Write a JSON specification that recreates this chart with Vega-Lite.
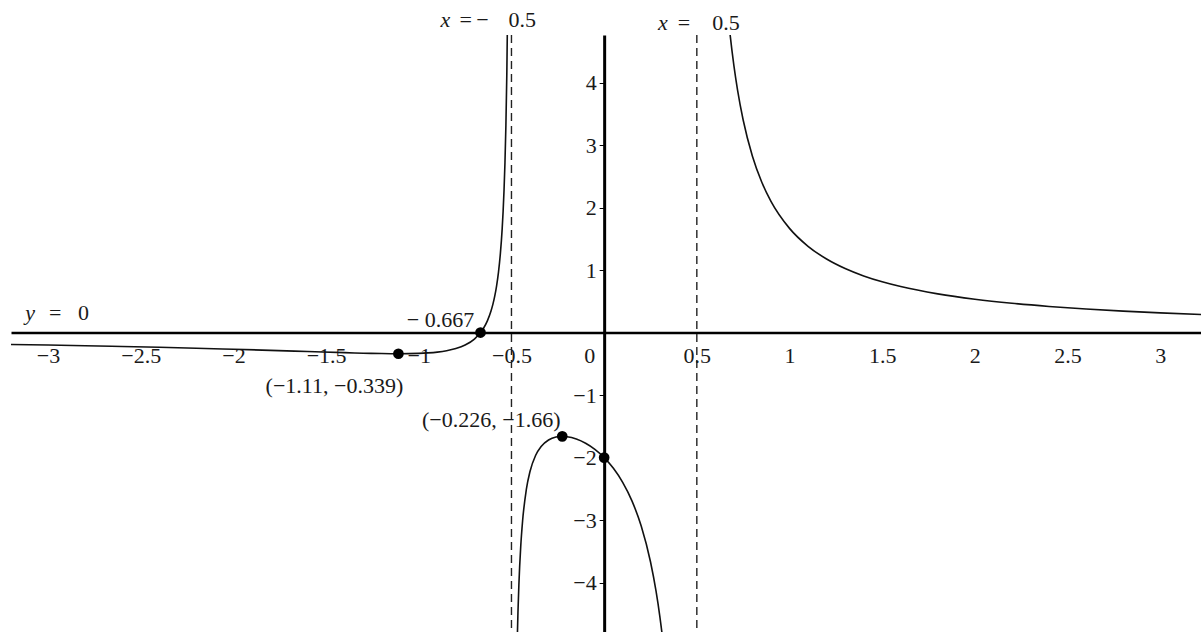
{
  "$schema": "https://vega.github.io/schema/vega-lite/v6.json",
  "width": 1190,
  "height": 597,
  "autosize": {"type": "none"},
  "padding": {"left": 11, "top": 35, "right": 0, "bottom": 0},
  "background": "white",
  "title": {
    "text": "(c)",
    "anchor": "start",
    "frame": "group",
    "orient": "top",
    "offset": 34,
    "dx": 47,
    "baseline": "alphabetic",
    "font": "Liberation Serif, Times New Roman, DejaVu Serif, serif",
    "fontSize": 22,
    "fontWeight": "normal",
    "color": "#1a1a1a"
  },
  "config": {
    "view": {"stroke": null},
    "font": "Liberation Serif, Times New Roman, DejaVu Serif, serif",
    "text": {"font": "Liberation Serif, Times New Roman, DejaVu Serif, serif", "fontSize": 22, "color": "#1a1a1a"}
  },
  "datasets": {
    "curve": [
      {"branch": "left", "x": -3.2, "y": -0.1902},
      {"branch": "left", "x": -3.0, "y": -0.2},
      {"branch": "left", "x": -2.8, "y": -0.2108},
      {"branch": "left", "x": -2.6, "y": -0.2227},
      {"branch": "left", "x": -2.4, "y": -0.2359},
      {"branch": "left", "x": -2.2, "y": -0.2505},
      {"branch": "left", "x": -2.0, "y": -0.2667},
      {"branch": "left", "x": -1.8, "y": -0.2843},
      {"branch": "left", "x": -1.6, "y": -0.303},
      {"branch": "left", "x": -1.4, "y": -0.3216},
      {"branch": "left", "x": -1.3, "y": -0.3299},
      {"branch": "left", "x": -1.2, "y": -0.3361},
      {"branch": "left", "x": -1.11, "y": -0.3386},
      {"branch": "left", "x": -1.0, "y": -0.3333},
      {"branch": "left", "x": -0.95, "y": -0.3257},
      {"branch": "left", "x": -0.9, "y": -0.3125},
      {"branch": "left", "x": -0.85, "y": -0.291},
      {"branch": "left", "x": -0.8, "y": -0.2564},
      {"branch": "left", "x": -0.75, "y": -0.2},
      {"branch": "left", "x": -0.7, "y": -0.1042},
      {"branch": "left", "x": -0.667, "y": 0},
      {"branch": "left", "x": -0.65, "y": 0.0725},
      {"branch": "left", "x": -0.63, "y": 0.1872},
      {"branch": "left", "x": -0.61, "y": 0.3481},
      {"branch": "left", "x": -0.6, "y": 0.4545},
      {"branch": "left", "x": -0.59, "y": 0.5861},
      {"branch": "left", "x": -0.58, "y": 0.7523},
      {"branch": "left", "x": -0.57, "y": 0.968},
      {"branch": "left", "x": -0.56, "y": 1.2579},
      {"branch": "left", "x": -0.55, "y": 1.6667},
      {"branch": "left", "x": -0.545, "y": 1.9405},
      {"branch": "left", "x": -0.54, "y": 2.2837},
      {"branch": "left", "x": -0.535, "y": 2.726},
      {"branch": "left", "x": -0.53, "y": 3.3172},
      {"branch": "left", "x": -0.525, "y": 4.1463},
      {"branch": "left", "x": -0.52, "y": 5.3922},
      {"branch": "left", "x": -0.515, "y": 7.47},
      {"branch": "middle", "x": -0.48, "y": -7.143},
      {"branch": "middle", "x": -0.475, "y": -5.897},
      {"branch": "middle", "x": -0.47, "y": -5.069},
      {"branch": "middle", "x": -0.465, "y": -4.478},
      {"branch": "middle", "x": -0.46, "y": -4.036},
      {"branch": "middle", "x": -0.45, "y": -3.421},
      {"branch": "middle", "x": -0.44, "y": -3.014},
      {"branch": "middle", "x": -0.42, "y": -2.514},
      {"branch": "middle", "x": -0.4, "y": -2.222},
      {"branch": "middle", "x": -0.37, "y": -1.967},
      {"branch": "middle", "x": -0.34, "y": -1.823},
      {"branch": "middle", "x": -0.3, "y": -1.719},
      {"branch": "middle", "x": -0.26, "y": -1.672},
      {"branch": "middle", "x": -0.226, "y": -1.6614},
      {"branch": "middle", "x": -0.2, "y": -1.6667},
      {"branch": "middle", "x": -0.15, "y": -1.7033},
      {"branch": "middle", "x": -0.1, "y": -1.7708},
      {"branch": "middle", "x": -0.05, "y": -1.8687},
      {"branch": "middle", "x": 0.0, "y": -2.0},
      {"branch": "middle", "x": 0.05, "y": -2.1717},
      {"branch": "middle", "x": 0.1, "y": -2.3958},
      {"branch": "middle", "x": 0.15, "y": -2.6923},
      {"branch": "middle", "x": 0.2, "y": -3.0952},
      {"branch": "middle", "x": 0.25, "y": -3.6667},
      {"branch": "middle", "x": 0.28, "y": -4.1375},
      {"branch": "middle", "x": 0.3, "y": -4.5313},
      {"branch": "middle", "x": 0.32, "y": -5.0136},
      {"branch": "middle", "x": 0.34, "y": -5.6176},
      {"branch": "right", "x": 0.66, "y": 5.361},
      {"branch": "right", "x": 0.67, "y": 5.0402},
      {"branch": "right", "x": 0.68, "y": 4.7552},
      {"branch": "right", "x": 0.7, "y": 4.2708},
      {"branch": "right", "x": 0.72, "y": 3.8748},
      {"branch": "right", "x": 0.75, "y": 3.4},
      {"branch": "right", "x": 0.8, "y": 2.8205},
      {"branch": "right", "x": 0.85, "y": 2.4074},
      {"branch": "right", "x": 0.9, "y": 2.0982},
      {"branch": "right", "x": 1.0, "y": 1.6667},
      {"branch": "right", "x": 1.1, "y": 1.3802},
      {"branch": "right", "x": 1.2, "y": 1.1765},
      {"branch": "right", "x": 1.3, "y": 1.0243},
      {"branch": "right", "x": 1.4, "y": 0.9064},
      {"branch": "right", "x": 1.5, "y": 0.8125},
      {"branch": "right", "x": 1.6, "y": 0.7359},
      {"branch": "right", "x": 1.8, "y": 0.6187},
      {"branch": "right", "x": 2.0, "y": 0.5333},
      {"branch": "right", "x": 2.2, "y": 0.4684},
      {"branch": "right", "x": 2.4, "y": 0.4174},
      {"branch": "right", "x": 2.6, "y": 0.3763},
      {"branch": "right", "x": 2.8, "y": 0.3426},
      {"branch": "right", "x": 3.0, "y": 0.3143},
      {"branch": "right", "x": 3.22, "y": 0.2881}
    ],
    "asymptotes": [
      {"var": "x", "at": -0.5, "eq": "=\u2009\u2212\u2002\u2009\u20090.5"},
      {"var": "x", "at": 0.5, "eq": "=\u20030.5"},
      {"var": "y", "at": 0, "eq": "=\u2002 0"}
    ],
    "points": [
      {"x": -1.11, "y": -0.339, "label": "(\u22121.11, \u22120.339)"},
      {"x": -0.667, "y": 0, "label": "\u2212 0.667"},
      {"x": -0.226, "y": -1.66, "label": "(\u22120.226, \u22121.66)"},
      {"x": 0, "y": -2}
    ]
  },
  "layer": [
    {
      "data": {"name": "curve"},
      "mark": {"type": "line", "clip": true, "color": "#111111", "strokeWidth": 1.6, "interpolate": "monotone"},
      "encoding": {
        "x": {
          "field": "x",
          "type": "quantitative",
          "scale": {"domain": [-3.2, 3.22], "nice": false, "zero": false},
          "axis": {
            "orient": "bottom",
            "offset": -299.45,
            "values": [-3, -2.5, -2, -1.5, -1, -0.5, 0, 0.5, 1, 1.5, 2, 2.5, 3],
            "format": "~g",
            "title": null,
            "grid": false,
            "ticks": false,
            "domainColor": "#000000",
            "domainWidth": 2.6,
            "labelFont": "Liberation Serif, Times New Roman, DejaVu Serif, serif",
            "labelFontSize": 22,
            "labelColor": "#1a1a1a",
            "labelPadding": 13,
            "labelOverlap": false,
            "labelFlush": false,
            "labelOffset": {"condition": {"test": "datum.value === 0", "value": -15}, "value": 0}
          }
        },
        "y": {
          "field": "y",
          "type": "quantitative",
          "scale": {"domain": [-4.79, 4.76], "nice": false, "zero": false},
          "axis": {
            "orient": "left",
            "offset": -593.15,
            "values": [-4, -3, -2, -1, 1, 2, 3, 4],
            "format": "~g",
            "title": null,
            "grid": false,
            "ticks": true,
            "tickSize": 5,
            "tickWidth": 1,
            "tickColor": "#000000",
            "domainColor": "#000000",
            "domainWidth": 3,
            "labelFont": "Liberation Serif, Times New Roman, DejaVu Serif, serif",
            "labelFontSize": 22,
            "labelColor": "#1a1a1a",
            "labelPadding": 3,
            "labelOverlap": false,
            "labelFlush": false
          }
        },
        "detail": {"field": "branch"}
      }
    },
    {
      "data": {"name": "asymptotes"},
      "transform": [{"filter": "datum.var === 'x'"}],
      "mark": {"type": "rule", "strokeDash": [8, 5], "strokeWidth": 1.4, "color": "#222222"},
      "encoding": {"x": {"field": "at", "type": "quantitative"}}
    },
    {
      "data": {"name": "points"},
      "mark": {"type": "circle", "size": 115, "color": "#000000", "opacity": 1},
      "encoding": {
        "x": {"field": "x", "type": "quantitative"},
        "y": {"field": "y", "type": "quantitative"}
      }
    },
    {
      "data": {"name": "points"},
      "transform": [{"filter": "datum.x === -0.667"}],
      "mark": {"type": "text", "align": "center", "baseline": "middle", "dx": -40, "dy": -13},
      "encoding": {
        "x": {"field": "x", "type": "quantitative"},
        "y": {"field": "y", "type": "quantitative"},
        "text": {"field": "label"}
      }
    },
    {
      "data": {"name": "points"},
      "transform": [{"filter": "datum.x === -1.11"}],
      "mark": {"type": "text", "align": "center", "baseline": "middle", "dx": -64, "dy": 32},
      "encoding": {
        "x": {"field": "x", "type": "quantitative"},
        "y": {"field": "y", "type": "quantitative"},
        "text": {"field": "label"}
      }
    },
    {
      "data": {"name": "points"},
      "transform": [{"filter": "datum.x === -0.226"}],
      "mark": {"type": "text", "align": "center", "baseline": "middle", "dx": -71, "dy": -16},
      "encoding": {
        "x": {"field": "x", "type": "quantitative"},
        "y": {"field": "y", "type": "quantitative"},
        "text": {"field": "label"}
      }
    },
    {
      "data": {"name": "asymptotes"},
      "transform": [{"filter": "datum.at === -0.5"}],
      "mark": {"type": "text", "fontStyle": "italic", "align": "center", "baseline": "alphabetic", "dx": -66, "dy": -8},
      "encoding": {
        "x": {"field": "at", "type": "quantitative"},
        "y": {"datum": 4.76},
        "text": {"field": "var"}
      }
    },
    {
      "data": {"name": "asymptotes"},
      "transform": [{"filter": "datum.at === -0.5"}],
      "mark": {"type": "text", "align": "left", "baseline": "alphabetic", "dx": -52, "dy": -8},
      "encoding": {
        "x": {"field": "at", "type": "quantitative"},
        "y": {"datum": 4.76},
        "text": {"field": "eq"}
      }
    },
    {
      "data": {"name": "asymptotes"},
      "transform": [{"filter": "datum.at === 0.5"}],
      "mark": {"type": "text", "fontStyle": "italic", "align": "center", "baseline": "alphabetic", "dx": -34, "dy": -5},
      "encoding": {
        "x": {"field": "at", "type": "quantitative"},
        "y": {"datum": 4.76},
        "text": {"field": "var"}
      }
    },
    {
      "data": {"name": "asymptotes"},
      "transform": [{"filter": "datum.at === 0.5"}],
      "mark": {"type": "text", "align": "left", "baseline": "alphabetic", "dx": -19, "dy": -5},
      "encoding": {
        "x": {"field": "at", "type": "quantitative"},
        "y": {"datum": 4.76},
        "text": {"field": "eq"}
      }
    },
    {
      "data": {"name": "asymptotes"},
      "transform": [{"filter": "datum.var === 'y'"}],
      "mark": {"type": "text", "fontStyle": "italic", "align": "center", "baseline": "alphabetic", "dx": 19, "dy": -12.5},
      "encoding": {
        "x": {"datum": -3.2},
        "y": {"field": "at", "type": "quantitative"},
        "text": {"field": "var"}
      }
    },
    {
      "data": {"name": "asymptotes"},
      "transform": [{"filter": "datum.var === 'y'"}],
      "mark": {"type": "text", "align": "left", "baseline": "alphabetic", "dx": 38, "dy": -12.5},
      "encoding": {
        "x": {"datum": -3.2},
        "y": {"field": "at", "type": "quantitative"},
        "text": {"field": "eq"}
      }
    }
  ]
}
